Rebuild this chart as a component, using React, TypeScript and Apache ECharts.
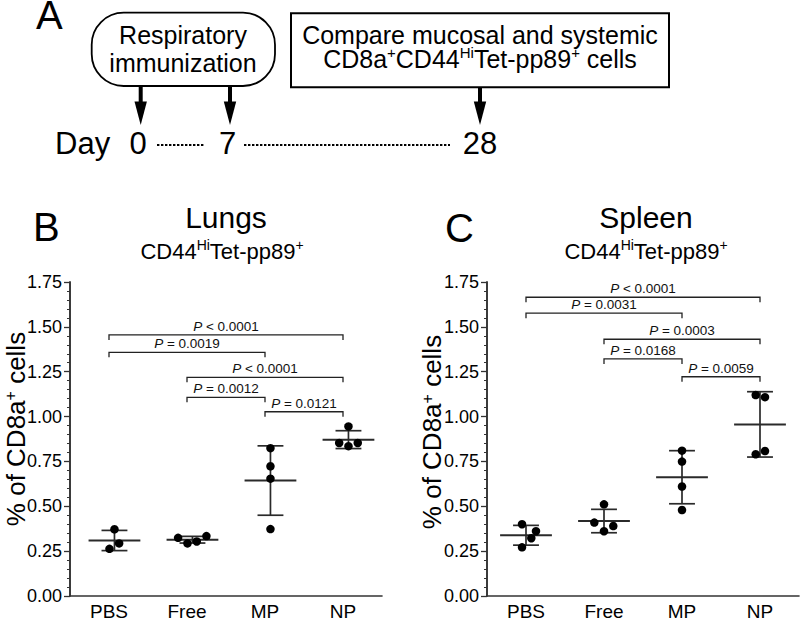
import React, { useEffect, useRef } from "react";
import * as echarts from "echarts";

const FONT = '"Liberation Sans", Arial, Helvetica, sans-serif';

// ---- Data ----
const categories = ["PBS", "Free", "MP", "NP"];
const yMin = 0;
const yMax = 1.75;
const yInterval = 0.25;
const yMinorInterval = 0.05;

// Lungs: % of CD8a+ cells (individual animals)
const lungsPBS = [0.372, 0.263, 0.293];
const lungsFree = [0.324, 0.293, 0.304, 0.334];
const lungsMP = [0.824, 0.723, 0.654, 0.373];
const lungsNP = [0.945, 0.853, 0.835, 0.853];

// Spleen
const spleenPBS = [0.4, 0.361, 0.322, 0.271];
const spleenFree = [0.511, 0.409, 0.39, 0.361];
const spleenMP = [0.81, 0.749, 0.61, 0.479];
const spleenNP = [1.12, 1.108, 0.79, 0.808];

// horizontal scatter of the dots within a group (category units)
const lungsPBSJitter = [0, -0.064, 0.06];
const lungsFreeJitter = [-0.184, -0.064, 0.055, 0.179];
const lungsMPJitter = [0, 0, 0, 0];
const lungsNPJitter = [0, -0.119, 0, 0.119];
const spleenPBSJitter = [-0.051, 0.128, 0.068, -0.051];
const spleenFreeJitter = [0, -0.124, 0.119, 0];
const spleenMPJitter = [0, 0, 0, 0];
const spleenNPJitter = [-0.055, 0.064, -0.055, 0.064];

// Significance brackets (group indices, height, p-value text)
const lungsBracketFrom = [0, 0, 1, 1, 2];
const lungsBracketTo = [3, 2, 3, 2, 3];
const lungsBracketY = [1.455, 1.358, 1.219, 1.107, 1.027];
const lungsBracketP = ["< 0.0001", "= 0.0019", "< 0.0001", "= 0.0012", "= 0.0121"];

const spleenBracketFrom = [0, 0, 1, 1, 2];
const spleenBracketTo = [3, 2, 3, 2, 3];
const spleenBracketY = [1.665, 1.576, 1.431, 1.321, 1.222];
const spleenBracketP = ["< 0.0001", "= 0.0031", "= 0.0003", "= 0.0168", "= 0.0059"];

// ---- helpers ----
// group i occupies [i, i+1] on the x value axis; its centre is i + 0.5
function mean(a: number[]) {
  return a.reduce((s, v) => s + v, 0) / a.length;
}
function sd(a: number[]) {
  const m = mean(a);
  return Math.sqrt(a.reduce((s, v) => s + (v - m) * (v - m), 0) / (a.length - 1));
}

function buildPoints(groups: number[][], jitters: number[][], shift: number) {
  const out: number[][] = [];
  groups.forEach((g, i) => {
    g.forEach((v, j) => out.push([i + 0.5 + shift + jitters[i][j], v]));
  });
  return out;
}
function buildStats(groups: number[][], shift: number) {
  return groups.map((g, i) => [i + 0.5 + shift, mean(g), sd(g)]);
}
function buildBrackets(from: number[], to: number[], ys: number[]) {
  return from.map((f, i) => [f + 0.5, to[i] + 0.5, ys[i]]);
}

const errorBarItem = (params: any, api: any) => {
  const x = api.value(0);
  const m = api.value(1);
  const s = api.value(2);
  const c = api.coord([x, m]);
  const t = api.coord([x, m + s]);
  const b = api.coord([x, m - s]);
  const half = api.size([0.332, 0])[0];
  const cap = half / 2;
  const st = { stroke: "#2a2a2a", lineWidth: 1.7 };
  return {
    type: "group",
    children: [
      { type: "line", shape: { x1: c[0] - half, y1: c[1], x2: c[0] + half, y2: c[1] }, style: { ...st, lineWidth: 2 } },
      { type: "line", shape: { x1: t[0], y1: t[1], x2: b[0], y2: b[1] }, style: st },
      { type: "line", shape: { x1: t[0] - cap, y1: t[1], x2: t[0] + cap, y2: t[1] }, style: st },
      { type: "line", shape: { x1: b[0] - cap, y1: b[1], x2: b[0] + cap, y2: b[1] }, style: st },
    ],
  };
};

const makeBracketItem = (labels: string[]) => (params: any, api: any) => {
  const a = api.coord([api.value(0), api.value(2)]);
  const b = api.coord([api.value(1), api.value(2)]);
  const drop = 5;
  return {
    type: "group",
    children: [
      {
        type: "polyline",
        shape: {
          points: [
            [a[0], a[1] + drop],
            [a[0], a[1]],
            [b[0], b[1]],
            [b[0], b[1] + drop],
          ],
        },
        style: { stroke: "#222", lineWidth: 1.3, fill: "none" },
      },
      {
        type: "text",
        x: (a[0] + b[0]) / 2,
        y: a[1] - 1.5,
        style: {
          text: "{i|P} " + labels[params.dataIndex],
          fontSize: 13.5,
          fontFamily: FONT,
          fill: "#111",
          align: "center",
          verticalAlign: "bottom",
          rich: { i: { fontStyle: "italic", fontSize: 13.5, fontFamily: FONT, fill: "#111" } },
        },
      },
    ],
  };
};

const lungsGroups = [lungsPBS, lungsFree, lungsMP, lungsNP];
const lungsJitters = [lungsPBSJitter, lungsFreeJitter, lungsMPJitter, lungsNPJitter];
const spleenGroups = [spleenPBS, spleenFree, spleenMP, spleenNP];
const spleenJitters = [spleenPBSJitter, spleenFreeJitter, spleenMPJitter, spleenNPJitter];

// x axis: a value axis spanning the four groups, labelled with the group names
function xAxisFor(gridIndex: number) {
  return {
    gridIndex,
    type: "value",
    min: 0,
    max: categories.length,
    position: "bottom",
    axisLine: { show: true, lineStyle: { color: "#333", width: 1.6 } },
    axisTick: { show: false },
    axisLabel: {
      show: true,
      customValues: categories.map((_, i) => i + 0.5),
      formatter: (v: number) => categories[Math.floor(v)] ?? "",
      color: "#000",
      fontSize: 19,
      fontFamily: FONT,
      margin: 6,
    },
    splitLine: { show: false },
  };
}
// main y axis: line, major ticks and labels
function yAxisFor(gridIndex: number) {
  return {
    gridIndex,
    type: "value",
    min: yMin,
    max: yMax,
    interval: yInterval,
    position: "left",
    axisLine: { show: true, onZero: false, lineStyle: { color: "#333", width: 1.6 } },
    axisTick: { show: true, inside: false, length: 6, lineStyle: { color: "#333", width: 1.3 } },
    axisLabel: {
      show: true,
      color: "#000",
      fontSize: 18,
      fontFamily: FONT,
      margin: 8,
      formatter: (v: number) => v.toFixed(2),
    },
    splitLine: { show: false },
  };
}
// second y axis on the same side, only for the small ticks
function yMinorAxisFor(gridIndex: number) {
  return {
    gridIndex,
    type: "value",
    min: yMin,
    max: yMax,
    interval: yMinorInterval,
    position: "left",
    offset: 0,
    axisLine: { show: true, onZero: false, lineStyle: { color: "#333", width: 1.6 } },
    axisTick: { show: true, inside: false, length: 3, lineStyle: { color: "#333", width: 1 } },
    axisLabel: { show: false },
    splitLine: { show: false },
  };
}

function txt(x: number, y: number, text: string, fontSize: number, align = "center", extra: any = {}, rotation = 0) {
  return {
    type: "text",
    x,
    y,
    rotation,
    style: {
      text,
      fontSize,
      fontFamily: FONT,
      fill: "#000",
      align,
      verticalAlign: "middle",
      textAlign: align,
      textVerticalAlign: "middle",
      ...extra,
    },
  };
}

function arrow(x: number, y0: number) {
  return [
    { type: "line", shape: { x1: x, y1: y0, x2: x, y2: 103 }, style: { stroke: "#000", lineWidth: 4 } },
    { type: "polygon", shape: { points: [[x - 6.2, 101.5], [x + 6.2, 101.5], [x, 125]] }, style: { fill: "#000" } },
  ];
}

const yName = "% of CD8a{sup|+} cells";

export default function App() {
  const ref = useRef<HTMLDivElement>(null);
  useEffect(() => {
    if (!ref.current) return;
    const chart = echarts.init(ref.current, null, { renderer: "svg" });
    const supRich = (sup: number, lh: number) => ({
      lineHeight: lh,
      rich: { sup: { fontSize: sup, lineHeight: sup, verticalAlign: "top", fontFamily: FONT, fill: "#000" } },
    });

    const option: any = {
      animation: false,
      backgroundColor: "#fff",
      textStyle: { fontFamily: FONT },
      grid: [
        { left: 70, top: 282, width: 312, height: 314, containLabel: false, outerBoundsMode: "none" },
        { left: 487, top: 282, width: 312, height: 314, containLabel: false, outerBoundsMode: "none" },
      ],
      xAxis: [xAxisFor(0), xAxisFor(1)],
      yAxis: [yAxisFor(0), yAxisFor(1), yMinorAxisFor(0), yMinorAxisFor(1)],
      series: [
        {
          type: "custom",
          xAxisIndex: 0,
          yAxisIndex: 0,
          renderItem: errorBarItem,
          data: buildStats(lungsGroups, 0.07),
          z: 2,
        },
        {
          type: "custom",
          xAxisIndex: 1,
          yAxisIndex: 1,
          renderItem: errorBarItem,
          data: buildStats(spleenGroups, 0),
          z: 2,
        },
        {
          type: "scatter",
          xAxisIndex: 0,
          yAxisIndex: 0,
          symbol: "circle",
          symbolSize: 8.5,
          itemStyle: { color: "#000", opacity: 1 },
          data: buildPoints(lungsGroups, lungsJitters, 0.07),
          z: 3,
        },
        {
          type: "scatter",
          xAxisIndex: 1,
          yAxisIndex: 1,
          symbol: "circle",
          symbolSize: 8.5,
          itemStyle: { color: "#000", opacity: 1 },
          data: buildPoints(spleenGroups, spleenJitters, 0),
          z: 3,
        },
        {
          type: "custom",
          xAxisIndex: 0,
          yAxisIndex: 0,
          renderItem: makeBracketItem(lungsBracketP),
          encode: { x: [0, 1], y: 2 },
          data: buildBrackets(lungsBracketFrom, lungsBracketTo, lungsBracketY),
          clip: false,
        },
        {
          type: "custom",
          xAxisIndex: 1,
          yAxisIndex: 1,
          renderItem: makeBracketItem(spleenBracketP),
          encode: { x: [0, 1], y: 2 },
          data: buildBrackets(spleenBracketFrom, spleenBracketTo, spleenBracketY),
          clip: false,
        },
      ],
      graphic: {
        elements: [
          // Panel A
          txt(36, 15, "A", 40, "left"),
          {
            type: "rect",
            shape: { x: 91.7, y: 12.7, width: 183.3, height: 73.3, r: 32 },
            style: { fill: "none", stroke: "#000", lineWidth: 1.8 },
          },
          {
            type: "rect",
            shape: { x: 291, y: 13.3, width: 378, height: 74 },
            style: { fill: "none", stroke: "#000", lineWidth: 2 },
          },
          txt(183, 34.5, "Respiratory", 25),
          txt(183, 63, "immunization", 25),
          txt(480, 34.5, "Compare mucosal and systemic", 25),
          txt(480, 59, "CD8a{sup|+}CD44{sup|Hi}Tet-pp89{sup|+} cells", 25, "center", supRich(15, 29)),
          ...arrow(140.7, 86),
          ...arrow(230, 86),
          ...arrow(480, 87.3),
          txt(55, 143, "Day", 31, "left"),
          txt(138, 143, "0", 31),
          txt(227.7, 143, "7", 31),
          txt(480, 143, "28", 31),
          { type: "line", shape: { x1: 157, y1: 145, x2: 205, y2: 145 }, style: { stroke: "#000", lineWidth: 2, lineDash: [2.4, 1.6] } },
          { type: "line", shape: { x1: 244, y1: 145, x2: 450, y2: 145 }, style: { stroke: "#000", lineWidth: 2, lineDash: [2.4, 1.6] } },
          // Panel B / C headers
          txt(33, 227, "B", 40, "left"),
          txt(445, 228, "C", 40, "left"),
          txt(226, 217.5, "Lungs", 30),
          txt(646, 217.5, "Spleen", 30),
          txt(222, 251.5, "CD44{sup|Hi}Tet-pp89{sup|+}", 22, "center", supRich(14, 28)),
          txt(646, 251.5, "CD44{sup|Hi}Tet-pp89{sup|+}", 22, "center", supRich(14, 28)),
          // y-axis titles
          txt(15.5, 429, yName, 26, "center", supRich(16, 26), Math.PI / 2),
          txt(432, 432, yName, 26, "center", supRich(16, 26), Math.PI / 2),
        ],
      },
    };
    chart.setOption(option);
    return () => chart.dispose();
  }, []);
  return (
    <div
      ref={ref}
      style={{ position: "fixed", left: 0, top: 0, width: 800, height: 618, background: "#fff" }}
    />
  );
}
